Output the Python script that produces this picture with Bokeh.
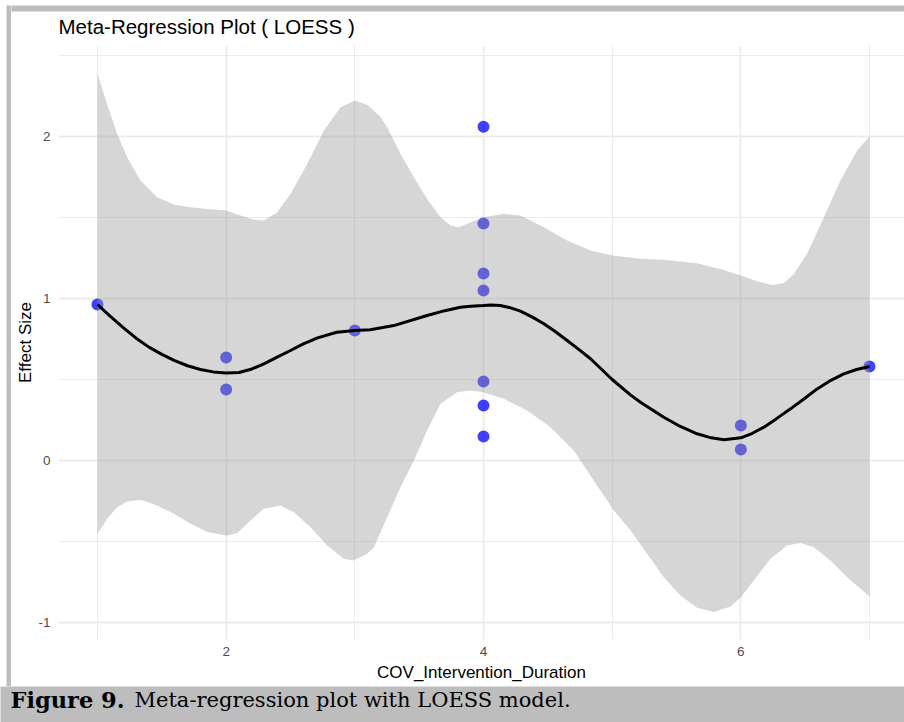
from bokeh.plotting import figure
from bokeh.models import Range1d, FixedTicker
from bokeh.layouts import column, row
from bokeh.embed import file_html
from bokeh.resources import INLINE
from bokeh.core.properties import value

# ---------------- data ----------------
title_text = "Meta-Regression Plot ( LOESS )"
x_label = "COV_Intervention_Duration"
y_label = "Effect Size"
caption_bold = "Figure 9."
caption_rest = "Meta-regression plot with LOESS model."

x_ticks = [2, 4, 6]
x_minor = [1, 3, 5, 7]
y_ticks = [-1, 0, 1, 2]
y_minor = [-0.5, 0.5, 1.5, 2.5]
y_tick_labels = ["-1", "0", "1", "2"]
x_tick_labels = ["2", "4", "6"]

pt_x = [1, 2, 2, 3, 4, 4, 4, 4, 4, 4, 4, 6, 6, 7]
pt_y = [0.963, 0.636, 0.438, 0.802, 2.06, 1.463, 1.154, 1.049, 0.488, 0.34, 0.148, 0.216, 0.068, 0.58]

fit_x = [1.0, 1.1, 1.2, 1.3, 1.4, 1.5, 1.6, 1.7, 1.8, 1.9, 2.0, 2.1, 2.2, 2.293, 2.4, 2.5,
         2.6, 2.71, 2.86, 3.0, 3.12, 3.303, 3.562, 3.7, 3.82, 3.9, 4.0, 4.06, 4.13, 4.2,
         4.287, 4.38, 4.469, 4.56, 4.65, 4.74, 4.832, 5.0, 5.142, 5.22, 5.401, 5.53, 5.66,
         5.77, 5.87, 6.0, 6.09, 6.18, 6.28, 6.386, 6.49, 6.593, 6.7, 6.8, 6.9, 7.0]
fit_y = [0.963, 0.89, 0.82, 0.755, 0.70, 0.655, 0.617, 0.585, 0.562, 0.547, 0.540, 0.543,
         0.565, 0.597, 0.64, 0.679, 0.72, 0.757, 0.792, 0.802, 0.807, 0.833, 0.895, 0.925,
         0.946, 0.953, 0.957, 0.96, 0.957, 0.945, 0.922, 0.885, 0.844, 0.795, 0.741, 0.686,
         0.628, 0.50, 0.405, 0.36, 0.267, 0.21, 0.165, 0.14, 0.128, 0.140, 0.168, 0.206,
         0.26, 0.319, 0.38, 0.442, 0.495, 0.535, 0.562, 0.580]

upper_x = [1.0, 1.075, 1.153, 1.231, 1.334, 1.464, 1.593, 1.723, 1.852, 2.0, 2.111, 2.215,
           2.293, 2.397, 2.5, 2.63, 2.76, 2.889, 3.0, 3.1, 3.2, 3.251, 3.355, 3.459, 3.562,
           3.666, 3.743, 3.808, 3.9, 4.0, 4.158, 4.287, 4.469, 4.65, 4.832, 5.0, 5.22, 5.401,
           5.66, 5.842, 6.0, 6.127, 6.243, 6.334, 6.412, 6.515, 6.645, 6.774, 6.904, 7.0]
upper_y = [2.387, 2.20, 2.017, 1.872, 1.728, 1.625, 1.580, 1.564, 1.553, 1.543, 1.512, 1.486,
           1.481, 1.533, 1.646, 1.831, 2.037, 2.181, 2.222, 2.195, 2.12, 2.058, 1.893, 1.749,
           1.615, 1.502, 1.451, 1.440, 1.471, 1.502, 1.523, 1.512, 1.440, 1.358, 1.296, 1.265,
           1.245, 1.239, 1.218, 1.183, 1.142, 1.107, 1.084, 1.094, 1.152, 1.276, 1.502, 1.728,
           1.914, 2.0]

lower_x = [1.0, 1.075, 1.153, 1.231, 1.334, 1.464, 1.593, 1.723, 1.852, 2.0, 2.085, 2.189,
           2.293, 2.422, 2.526, 2.656, 2.785, 2.915, 2.992, 3.096, 3.148, 3.251, 3.355, 3.459,
           3.562, 3.666, 3.795, 3.9, 4.0, 4.158, 4.339, 4.521, 4.702, 4.857, 5.013, 5.142,
           5.272, 5.401, 5.531, 5.66, 5.79, 5.92, 6.0, 6.1, 6.23, 6.36, 6.464, 6.567, 6.697,
           6.826, 7.0]
lower_y = [-0.453, -0.360, -0.288, -0.253, -0.243, -0.278, -0.329, -0.391, -0.442, -0.463,
           -0.449, -0.370, -0.298, -0.278, -0.319, -0.412, -0.525, -0.607, -0.617, -0.576,
           -0.535, -0.350, -0.165, 0.0, 0.185, 0.350, 0.422, 0.432, 0.422, 0.381, 0.309, 0.206,
           0.062, -0.123, -0.309, -0.43, -0.576, -0.720, -0.833, -0.909, -0.936, -0.901,
           -0.844, -0.741, -0.607, -0.525, -0.510, -0.535, -0.617, -0.720, -0.840]

# ---------------- page pieces ----------------
GRAY = "#bdbdbd"
TOTAL_W = 904
TOP_H, LEFT_W, CAP_H = 45, 11, 36
MAIN_W, MAIN_H = TOTAL_W - LEFT_W, 641


def pixel_fig(w, h, bg):
    f = figure(width=w, height=h, output_backend="svg", toolbar_location=None,
               x_range=Range1d(0, w), y_range=Range1d(h, 0), min_border=0,
               x_axis_location=None, y_axis_location=None, title=None,
               frame_align=False)
    f.outline_line_color = None
    f.border_fill_color = bg
    f.background_fill_color = bg
    f.grid.visible = False
    return f


# left frame column (full height down to the caption band)
LEFT_H = TOP_H + MAIN_H
left_fig = pixel_fig(LEFT_W, LEFT_H, "white")
left_fig.quad(left=[6], right=[LEFT_W + 5], top=[5], bottom=[LEFT_H + 5],
              fill_color=GRAY, line_color=None)

# top band: frame strip + chart title
top_fig = pixel_fig(MAIN_W, TOP_H, "white")
top_fig.quad(left=[-5], right=[MAIN_W + 5], top=[5], bottom=[11],
             fill_color=GRAY, line_color=None)
top_fig.text(x=[58 - LEFT_W], y=[26], text=[title_text], text_font=value("Liberation Sans"),
             text_font_size="20.5px", text_color="black", text_baseline="alphabetic")

# caption band
cap_fig = pixel_fig(TOTAL_W, CAP_H, GRAY)
cap_fig.text(x=[10], y=[13], text=[caption_bold], text_font=value("DejaVu Serif"),
             text_font_size="22.5px", text_font_style="bold", text_color="black",
             text_baseline="alphabetic")
cap_fig.text(x=[134], y=[13], text=[caption_rest], text_font=value("DejaVu Serif"),
             text_font_size="21px", text_font_style="normal", text_color="black",
             text_baseline="alphabetic")

# ---------------- main chart ----------------
p = figure(width=MAIN_W, height=MAIN_H, output_backend="svg", toolbar_location=None,
           x_range=Range1d(0.697, 7.272), y_range=Range1d(-1.105, 2.562),
           min_border_left=47, min_border_right=0, min_border_top=0,
           min_border_bottom=47, title=None, frame_align=False)
p.border_fill_color = "white"
p.background_fill_color = "white"
p.outline_line_color = None

xt = FixedTicker(ticks=x_ticks, minor_ticks=x_minor)
yt = FixedTicker(ticks=y_ticks, minor_ticks=y_minor)
p.xaxis.ticker = xt
p.yaxis.ticker = yt
p.xgrid.ticker = xt
p.ygrid.ticker = yt
p.xaxis.major_label_overrides = dict(zip(x_ticks, x_tick_labels))
p.yaxis.major_label_overrides = dict(zip(y_ticks, y_tick_labels))

for ax in (p.xaxis, p.yaxis):
    ax.axis_line_color = None
    ax.major_tick_line_color = None
    ax.minor_tick_line_color = None
    ax.major_tick_out = 0
    ax.major_tick_in = 0
    ax.minor_tick_out = 0
    ax.minor_tick_in = 0
    ax.major_label_text_font = "Liberation Sans"
    ax.major_label_text_font_size = "13.5px"
    ax.major_label_text_color = "#4d4d4d"
    ax.axis_label_text_font = "Liberation Sans"
    ax.axis_label_text_font_size = "17px"
    ax.axis_label_text_font_style = "normal"
    ax.axis_label_text_color = "black"

p.xaxis.axis_label = x_label
p.yaxis.axis_label = y_label
p.xaxis.major_label_standoff = 7
p.xaxis.axis_label_standoff = 4
p.yaxis.major_label_standoff = 8
p.yaxis.axis_label_standoff = 0

for g in (p.xgrid, p.ygrid):
    g.grid_line_color = "#ebebeb"
    g.grid_line_width = 1.8
    g.minor_grid_line_color = "#ebebeb"
    g.minor_grid_line_width = 1.0

# points, then the confidence band over them, then the LOESS line
p.scatter(pt_x, pt_y, size=12, fill_color="blue", fill_alpha=0.75, line_color=None)
p.patch(upper_x + lower_x[::-1], upper_y + lower_y[::-1],
        fill_color="#999999", fill_alpha=0.4, line_color=None)
p.line(fit_x, fit_y, line_color="black", line_width=3)

layout = column(row(left_fig, column(top_fig, p)), cap_fig)

open("out.html", "w").write(file_html(layout, INLINE))
